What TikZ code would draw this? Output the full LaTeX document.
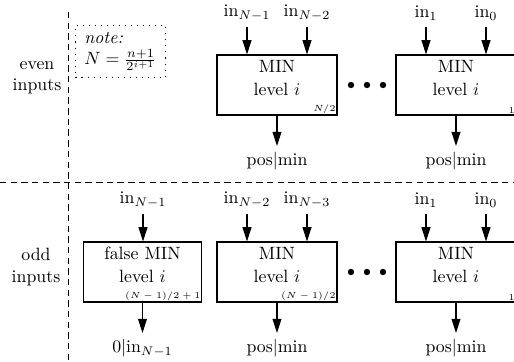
\documentclass[tikz,border=0pt]{standalone}
\usetikzlibrary{arrows.meta,calc}
\begin{document}
\begin{tikzpicture}[x=0.5618pt,y=-0.5618pt,
  line width=0.6pt,
  blk/.style={draw,minimum width=67.4pt,minimum height=33.7pt,inner sep=0pt},
  blktext/.style={align=center,inner sep=0pt},
  idx/.style={font=\tiny,inner sep=0.8pt,anchor=south east},
  lbl/.style={inner sep=3.3pt},
  arr/.style={-{Triangle[length=8pt,width=5pt]}},
  sep/.style={line width=0.45pt,dash pattern=on 3.6pt off 2.4pt},
  notebox/.style={draw,line width=0.5pt,dash pattern=on 0.6pt off 2.8pt,align=left,
    anchor=north west,inner xsep=4pt,inner ysep=1.5pt,
    minimum width=50.6pt,minimum height=29.2pt}]
\useasboundingbox (0,0) rectangle (514,362);

% separators between the two halves
\draw[sep] (68,12) -- (68,362);
\draw[sep] (0,182) -- (514,182);

% side captions
\node[align=center] (even) at (37,78) {even\\inputs};
\node[align=center] (odd) at (36,267) {odd\\inputs};

% note
\node[notebox] (note) at (75,25) {\textit{note:}\\$N=\frac{n+1}{2^{i+1}}$};

% ---------------- even inputs ----------------
\node[blk] (e1) at (277,85) {};
\node[blktext] (e1t) at (277,78) {MIN\\[1pt]level $i$};
\node[idx] (e1i) at (e1.south east) {$N/2$};

\node[blk] (e2) at (456,85) {};
\node[blktext] (e2t) at (456,78) {MIN\\[1pt]level $i$};
\node[idx] (e2i) at (e2.south east) {$1$};

\node[lbl,anchor=south] (ea) at (247,27) {in$_{N-1}$};
\node[lbl,anchor=south] (eb) at (307,27) {in$_{N-2}$};
\node[lbl,anchor=south] (ec) at (426,27) {in$_{1}$};
\node[lbl,anchor=south] (ed) at (486,27) {in$_{0}$};
\draw[arr] (ea.south) -- (ea.south |- e1.north);
\draw[arr] (eb.south) -- (eb.south |- e1.north);
\draw[arr] (ec.south) -- (ec.south |- e2.north);
\draw[arr] (ed.south) -- (ed.south |- e2.north);

\node[lbl,anchor=north] (eo1) at (277,146) {pos$|$min};
\node[lbl,anchor=north] (eo2) at (456,146) {pos$|$min};
\draw[arr] (e1.south) -- (eo1.north);
\draw[arr] (e2.south) -- (eo2.north);

\foreach \dx in {351,367,383} \fill (\dx,85) circle (3.2);

% ---------------- odd inputs ----------------
\node[blk,minimum width=66.8pt] (f0) at (142.5,272) {};
\node[blktext] (f0t) at (142.5,265) {false MIN\\[1pt]level $i$};
\node[idx] (f0i) at (f0.south east) {$(N-1)/2+1$};

\node[blk] (o1) at (277,272) {};
\node[blktext] (o1t) at (277,265) {MIN\\[1pt]level $i$};
\node[idx] (o1i) at (o1.south east) {$(N-1)/2$};

\node[blk] (o2) at (456,272) {};
\node[blktext] (o2t) at (456,265) {MIN\\[1pt]level $i$};
\node[idx] (o2i) at (o2.south east) {$1$};

\node[lbl,anchor=south] (oa) at (143,214) {in$_{N-1}$};
\node[lbl,anchor=south] (ob) at (247,214) {in$_{N-2}$};
\node[lbl,anchor=south] (oc) at (307,214) {in$_{N-3}$};
\node[lbl,anchor=south] (od) at (426,214) {in$_{1}$};
\node[lbl,anchor=south] (oe) at (486,214) {in$_{0}$};
\draw[arr] (oa.south) -- (oa.south |- f0.north);
\draw[arr] (ob.south) -- (ob.south |- o1.north);
\draw[arr] (oc.south) -- (oc.south |- o1.north);
\draw[arr] (od.south) -- (od.south |- o2.north);
\draw[arr] (oe.south) -- (oe.south |- o2.north);

\node[lbl,anchor=north] (of0) at (142.5,333) {$0|$in$_{N-1}$};
\node[lbl,anchor=north] (of1) at (277,333) {pos$|$min};
\node[lbl,anchor=north] (of2) at (456,333) {pos$|$min};
\draw[arr] (f0.south) -- (of0.north);
\draw[arr] (o1.south) -- (of1.north);
\draw[arr] (o2.south) -- (of2.north);

\foreach \dx in {351,367,383} \fill (\dx,272) circle (3.2);
\end{tikzpicture}
\end{document}
